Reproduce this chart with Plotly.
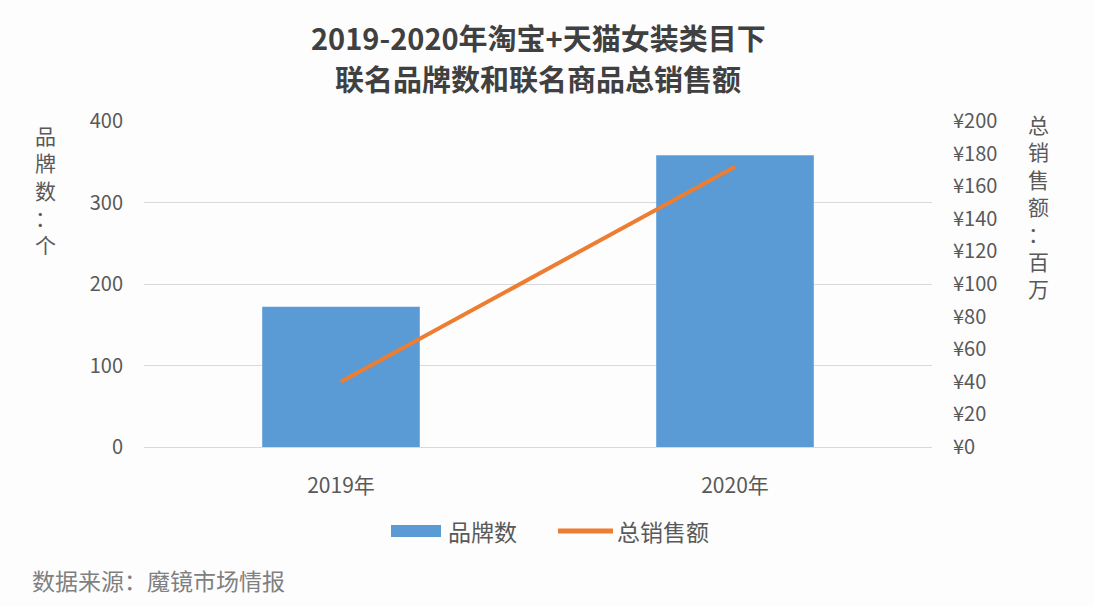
import plotly.graph_objects as go

categories = ["2019年", "2020年"]
brand_counts = [172, 358]
sales_million = [40, 172]
left_ticks = [0, 100, 200, 300, 400]
right_ticks = [0, 20, 40, 60, 80, 100, 120, 140, 160, 180, 200]
right_tick_text = ["¥" + str(v) for v in right_ticks]
series_names = ["品牌数", "总销售额"]

FONT = "Noto Sans CJK SC, Microsoft YaHei, sans-serif"
TXT = "#595959"
BLUE = "#5b9bd5"
ORANGE = "#ed7d31"

# plot-area geometry in pixels (used to convert to paper coordinates)
L, R, T, B = 144, 932, 121, 447
W, H = R - L, B - T


def px(xp):
    return (xp - L) / W


def py(yp):
    return (B - yp) / H


fig = go.Figure()
fig.add_trace(go.Bar(x=categories, y=brand_counts, name=series_names[0],
                     marker=dict(color=BLUE, line=dict(width=0)),
                     width=0.4, yaxis="y", showlegend=False))
fig.add_trace(go.Scatter(x=categories, y=sales_million, name=series_names[1],
                         mode="lines", line=dict(color=ORANGE, width=4),
                         yaxis="y2", showlegend=False))

fig.update_layout(
    width=1094, height=606,
    margin=dict(l=L, r=1094 - R, t=T, b=606 - B),
    paper_bgcolor="#fdfdfe", plot_bgcolor="#fdfdfe",
    font=dict(family=FONT, color=TXT, size=20),
    xaxis=dict(range=[-0.5, 1.5], showgrid=False, showline=True,
               linecolor="#d9d9d9", linewidth=1, ticks="",
               ticklabelstandoff=20,
               tickfont=dict(size=21, color=TXT)),
    yaxis=dict(range=[0, 400], tickvals=left_ticks, showgrid=True,
               gridcolor="#d9d9d9", gridwidth=1, zeroline=False,
               showline=False, ticklabelstandoff=20,
               tickfont=dict(size=20, color=TXT)),
    yaxis2=dict(range=[0, 200], tickmode="array", tickvals=right_ticks,
                ticktext=right_tick_text,
                overlaying="y", side="right", showgrid=False,
                zeroline=False, showline=False, ticklabelstandoff=20,
                tickfont=dict(size=20, color=TXT)),
    showlegend=False,
)

# title
fig.add_annotation(text="<b>2019-2020年淘宝+天猫女装类目下</b>", xref="paper", yref="paper",
                   x=0.5, xanchor="center", y=py(37), yanchor="middle",
                   showarrow=False, font=dict(size=29, color="#404040", family=FONT))
fig.add_annotation(text="<b>联名品牌数和联名商品总销售额</b>", xref="paper", yref="paper",
                   x=0.5, xanchor="center", y=py(78), yanchor="middle",
                   showarrow=False, font=dict(size=29, color="#404040", family=FONT))

# vertical axis titles
fig.add_annotation(text="品<br>牌<br>数<br>：<br>个", xref="paper", yref="paper",
                   x=px(45), xanchor="center", y=0.791, yanchor="middle",
                   showarrow=False, font=dict(size=21, color=TXT, family=FONT))
fig.add_annotation(text="总<br>销<br>售<br>额<br>：<br>百<br>万", xref="paper", yref="paper",
                   x=px(1038), xanchor="center", y=0.738, yanchor="middle",
                   showarrow=False, font=dict(size=21, color=TXT, family=FONT))

# legend (drawn to match the wide keys of the original)
fig.add_shape(type="rect", xref="paper", yref="paper",
              x0=px(391), x1=px(441), y0=py(537), y1=py(525),
              fillcolor=BLUE, line=dict(width=0))
fig.add_annotation(text=series_names[0], xref="paper", yref="paper",
                   x=px(446), xanchor="left", y=py(531), yanchor="middle",
                   showarrow=False, font=dict(size=23, color=TXT, family=FONT))
fig.add_shape(type="line", xref="paper", yref="paper",
              x0=px(558), x1=px(613), y0=py(531), y1=py(531),
              line=dict(color=ORANGE, width=5))
fig.add_annotation(text=series_names[1], xref="paper", yref="paper",
                   x=px(615), xanchor="left", y=py(531), yanchor="middle",
                   showarrow=False, font=dict(size=23, color=TXT, family=FONT))

# source
fig.add_annotation(text="数据来源：魔镜市场情报", xref="paper", yref="paper",
                   x=px(30), xanchor="left", y=py(580), yanchor="middle",
                   showarrow=False, font=dict(size=23, color="#808080", family=FONT))

fig.write_html("out.html")
